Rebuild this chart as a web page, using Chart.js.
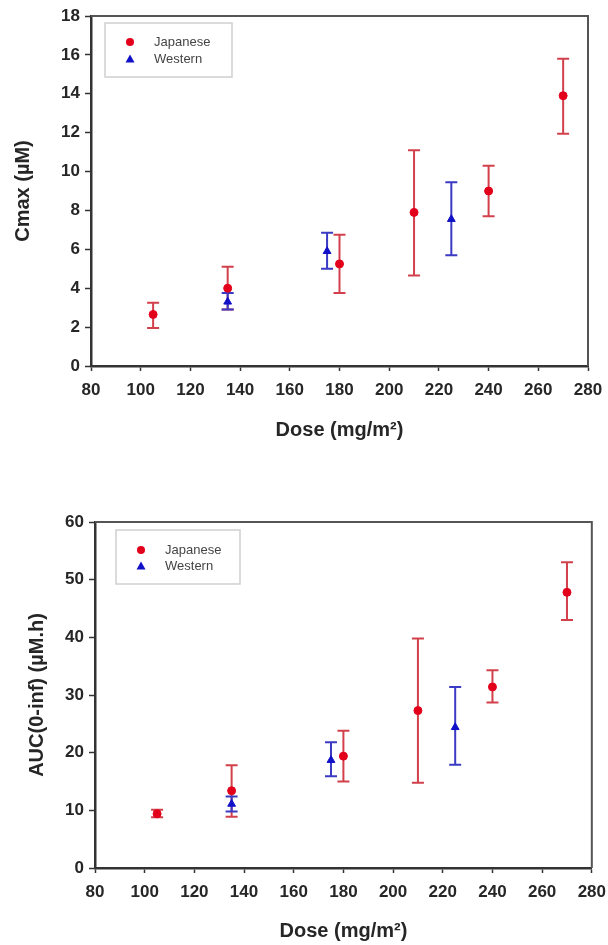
<!DOCTYPE html>
<html>
<head>
<meta charset="utf-8">
<title>Cmax and AUC by dose</title>
<script src="https://cdn.jsdelivr.net/npm/chart.js@4.4.1/dist/chart.umd.min.js"></script>
<style>
    body { margin: 0; background: #fff; }
    canvas { position: absolute; left: 0; }
    #cmaxChart { top: 0; }
    #aucChart { top: 470px; }
</style>
</head>
<body>
<canvas id="cmaxChart" width="608" height="470"></canvas>
<canvas id="aucChart" width="608" height="475"></canvas>
<script>
// doses (mg/m2) per population
const dosesJapanese = [105, 135, 180, 210, 240, 270]
const dosesWestern = [135, 175, 225]

// Cmax (uM): mean and error bar ends
const cmaxJapanese = [2.65, 4.0, 5.25, 7.9, 9.0, 13.9]
const cmaxJapaneseLow = [1.95, 2.9, 3.75, 4.65, 7.7, 11.95]
const cmaxJapaneseHigh = [3.25, 5.1, 6.75, 11.1, 10.3, 15.8]
const cmaxWestern = [3.3, 5.9, 7.55]
const cmaxWesternLow = [2.9, 5.0, 5.7]
const cmaxWesternHigh = [3.75, 6.85, 9.45]

// AUC(0-inf) (uM.h): mean and error bar ends
const aucJapanese = [9.4, 13.4, 19.4, 27.3, 31.4, 47.8]
const aucJapaneseLow = [8.8, 8.9, 15.0, 14.8, 28.7, 43.0]
const aucJapaneseHigh = [10.1, 17.8, 23.8, 39.8, 34.3, 53.0]
const aucWestern = [11.1, 18.7, 24.4]
const aucWesternLow = [9.8, 15.9, 17.9]
const aucWesternHigh = [12.4, 21.8, 31.4]

const doseTicks = [80, 100, 120, 140, 160, 180, 200, 220, 240, 260, 280]

const FONT = "'Liberation Sans', Arial, sans-serif"
const TEXT = '#262626'

// vertical error bars with caps, drawn under the markers
const errorBars = {
    id: 'errorBars',
    beforeDatasetsDraw(chart) {
        const { ctx, scales } = chart
        ctx.save()
        chart.data.datasets.forEach((ds) => {
            ctx.strokeStyle = ds.errColor
            ctx.lineWidth = 2
            ds.data.forEach((pt, i) => {
                const px = scales.x.getPixelForValue(pt.x)
                const lo = scales.y.getPixelForValue(ds.errLow[i])
                const hi = scales.y.getPixelForValue(ds.errHigh[i])
                ctx.beginPath()
                ctx.moveTo(px, lo)
                ctx.lineTo(px, hi)
                ctx.moveTo(px - 6, lo)
                ctx.lineTo(px + 6, lo)
                ctx.moveTo(px - 6, hi)
                ctx.lineTo(px + 6, hi)
                ctx.stroke()
            })
        })
        ctx.restore()
    },
}

// top and right edges of the plot box
const plotFrame = {
    id: 'plotFrame',
    afterDraw(chart) {
        const { ctx, chartArea: a } = chart
        ctx.save()
        ctx.strokeStyle = '#555'
        ctx.lineWidth = 2
        ctx.beginPath()
        ctx.moveTo(a.left, a.top)
        ctx.lineTo(a.right, a.top)
        ctx.lineTo(a.right, a.bottom)
        ctx.stroke()
        ctx.restore()
    },
}

// boxed legend inside the plot area
const boxLegend = {
    id: 'boxLegend',
    afterDraw(chart, args, opts) {
        const { ctx, chartArea: a } = chart
        const bx = a.left + opts.x
        const by = a.top + opts.y
        ctx.save()
        ctx.strokeStyle = '#cfcfcf'
        ctx.lineWidth = 1.5
        ctx.strokeRect(bx, by, opts.w, opts.h)
        ctx.font = '13px ' + FONT
        ctx.textBaseline = 'middle'
        chart.data.datasets.forEach((ds, i) => {
            const my = by + opts.rowY[i]
            const mx = bx + 25
            ctx.fillStyle = ds.pointBackgroundColor
            ctx.beginPath()
            if (ds.pointStyle === 'triangle') {
                ctx.moveTo(mx, my - 4.5)
                ctx.lineTo(mx + 4.5, my + 3.5)
                ctx.lineTo(mx - 4.5, my + 3.5)
                ctx.closePath()
            } else {
                ctx.arc(mx, my, 4, 0, Math.PI * 2)
            }
            ctx.fill()
            ctx.fillStyle = '#444'
            ctx.fillText(ds.label, bx + 49, my)
        })
        ctx.restore()
    },
}

function pairs(xs, ys) {
    return xs.map((x, i) => ({ x, y: ys[i] }))
}

function makeChart(id, cfg) {
    const ctx = document.getElementById(id).getContext('2d')
    return new Chart(ctx, {
        type: 'scatter',
        data: {
            datasets: [
                {
                    label: 'Japanese',
                    data: pairs(dosesJapanese, cfg.jp),
                    errLow: cfg.jpLow,
                    errHigh: cfg.jpHigh,
                    errColor: '#d2404c',
                    pointStyle: 'circle',
                    pointRadius: 4,
                    pointBackgroundColor: '#e3001b',
                    pointBorderColor: '#e3001b',
                    pointBorderWidth: 1,
                },
                {
                    label: 'Western',
                    data: pairs(dosesWestern, cfg.w),
                    errLow: cfg.wLow,
                    errHigh: cfg.wHigh,
                    errColor: '#3a3ac4',
                    pointStyle: 'triangle',
                    pointRadius: 4.5,
                    pointBackgroundColor: '#1010c8',
                    pointBorderColor: '#1010c8',
                    pointBorderWidth: 1,
                },
            ],
        },
        options: {
            responsive: false,
            animation: false,
            layout: { padding: cfg.padding },
            plugins: {
                legend: { display: false },
                tooltip: { enabled: false },
                boxLegend: cfg.legend,
            },
            scales: {
                x: {
                    type: 'linear',
                    min: doseTicks[0],
                    max: doseTicks[doseTicks.length - 1],
                    afterBuildTicks(scale) {
                        scale.ticks = doseTicks.map((v) => ({ value: v }))
                    },
                    ticks: {
                        color: TEXT,
                        padding: 2,
                        // tall line box pushes the labels down from the axis
                        font: { family: FONT, size: 17, weight: 'bold', lineHeight: 2.02 },
                    },
                    grid: {
                        drawOnChartArea: false,
                        tickLength: 5,
                        tickWidth: 1.5,
                        color: '#333',
                    },
                    border: { color: '#333', width: 2.5 },
                    title: {
                        display: true,
                        text: 'Dose (mg/m²)',
                        color: TEXT,
                        padding: 0,
                        font: { family: FONT, size: 20, weight: 'bold' },
                    },
                    afterFit(scale) {
                        scale.height = cfg.xAxisHeight
                    },
                },
                y: {
                    min: 0,
                    max: cfg.yMax,
                    ticks: {
                        stepSize: cfg.yStep,
                        color: TEXT,
                        padding: 5,
                        font: { family: FONT, size: 17, weight: 'bold' },
                    },
                    grid: {
                        drawOnChartArea: false,
                        tickLength: 6,
                        tickWidth: 1.5,
                        color: '#333',
                    },
                    border: { color: '#333', width: 2.5 },
                    title: {
                        display: true,
                        text: cfg.yTitle,
                        color: TEXT,
                        padding: { top: cfg.yTitlePad, bottom: 0 },
                        font: { family: FONT, size: 20, weight: 'bold' },
                    },
                    afterFit(scale) {
                        scale.width = cfg.yAxisWidth
                    },
                },
            },
        },
        plugins: [errorBars, plotFrame, boxLegend],
    })
}

makeChart('cmaxChart', {
    jp: cmaxJapanese,
    jpLow: cmaxJapaneseLow,
    jpHigh: cmaxJapaneseHigh,
    w: cmaxWestern,
    wLow: cmaxWesternLow,
    wHigh: cmaxWesternHigh,
    yMax: 18,
    yStep: 2,
    yTitle: 'Cmax (µM)',
    yTitlePad: 11,
    yAxisWidth: 91,
    xAxisHeight: 76,
    padding: { left: 0, top: 16, right: 20, bottom: 28 },
    legend: { x: 14, y: 7, w: 127, h: 54, rowY: [19, 36] },
})

makeChart('aucChart', {
    jp: aucJapanese,
    jpLow: aucJapaneseLow,
    jpHigh: aucJapaneseHigh,
    w: aucWestern,
    wLow: aucWesternLow,
    wHigh: aucWesternHigh,
    yMax: 60,
    yStep: 10,
    yTitle: 'AUC(0-inf) (µM.h)',
    yTitlePad: 25,
    yAxisWidth: 95,
    xAxisHeight: 75,
    padding: { left: 0, top: 52, right: 16, bottom: 2 },
    legend: { x: 21, y: 8, w: 124, h: 54, rowY: [20, 36] },
})
</script>
</body>
</html>
